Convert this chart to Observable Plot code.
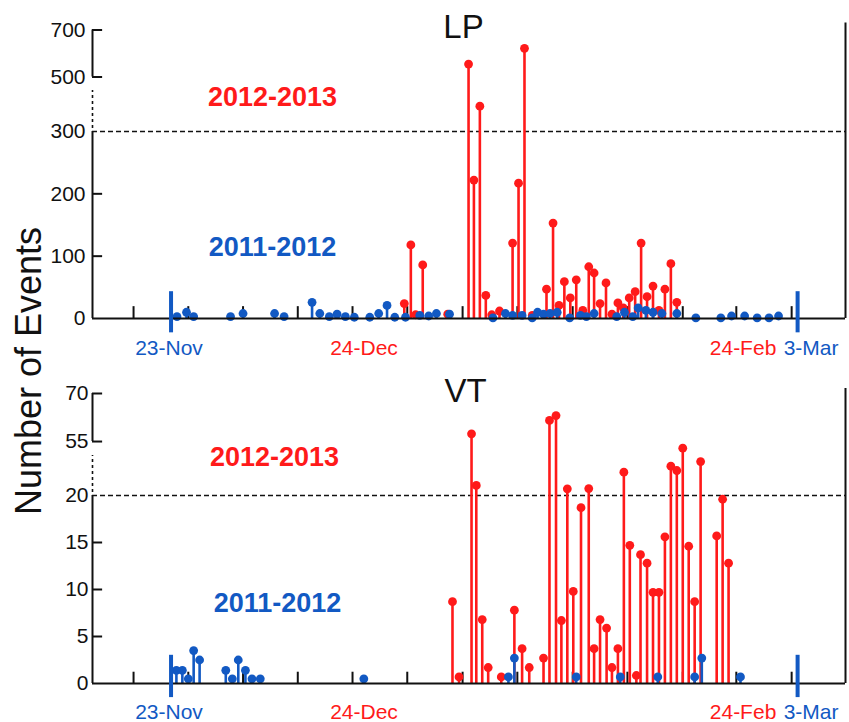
<!DOCTYPE html>
<html>
<head>
<meta charset="utf-8">
<script src="https://cdn.jsdelivr.net/npm/d3@7"></script>
<script src="https://cdn.jsdelivr.net/npm/@observablehq/plot@0.6"></script>
<style>
  html, body { margin: 0; padding: 0; background: #fff; }
  #wrap { position: relative; width: 849px; height: 722px; overflow: hidden; font-family: "Liberation Sans", Arial, Helvetica, sans-serif; }
  #lp, #vt { position: absolute; left: 0; }
  #lp { top: 0; }
  #vt { top: 360px; }
  #ytitle { position: absolute; left: 29px; top: 371px; transform: translate(-50%, -50%) rotate(-90deg); white-space: nowrap; font-size: 36px; color: #111; }
</style>
</head>
<body>
<div id="wrap">
  <div id="lp"></div>
  <div id="vt"></div>
  <div id="ytitle">Number of Events</div>
</div>
<script>
// ---------- data (x = day index along the season axis) ----------
const lpRedDay = [52.2,53.3,54.1,55.3,59.5,63.0,63.9,64.9,65.9,66.9,68.2,70.4,71.4,72.4,73.7,76.1,77.2,78.2,79.1,80.1,81.1,82.2,83.2,84.1,85.1,86.1,87.1,88.1,89.0,90.0,91.0,92.0,93.0,94.0,95.0,96.0,97.0,98.0];
const lpRedCount = [24,118,6,86,7,555,222,393,37,6,12,121,217,622,5,47,153,21,59,33,62,13,83,73,24,57,7,25,17,33,43,121,35,52,13,47,88,26];
const lpBlueDay = [14.0,15.6,16.8,23.0,25.1,30.4,32.0,36.7,38.0,39.6,40.9,42.3,43.8,46.4,47.9,49.3,50.6,52.4,54.8,56.3,57.6,59.8,67.1,69.2,70.4,72.0,73.7,74.6,75.6,76.7,77.9,80.0,81.8,82.8,84.1,87.9,89.2,90.6,91.5,92.8,94.0,95.5,98.0,101.2,105.4,107.2,109.4,111.5,113.5,115.1];
const lpBlueCount = [3,10,3,3,8,8,3,26,8,3,7,3,2,2,8,21,2,2,5,4,8,7,1,8,5,5,1,10,7,8,10,1,5,3,8,3,10,3,17,13,10,8,8,1,1,4,4,1,1,4];

const vtRedDay = [60.3,61.4,63.5,64.3,65.3,66.3,68.5,70.7,72.0,73.2,75.6,76.6,77.7,78.6,79.6,80.6,81.9,83.2,84.1,85.1,86.2,87.1,88.1,89.1,90.1,91.2,91.9,93.0,94.0,95.0,96.0,97.0,98.0,99.0,100.0,101.0,102.0,104.7,105.7,106.7];
const vtRedCount = [8.7,0.7,57.4,26.5,6.8,1.7,0.7,7.8,3.7,1.7,2.7,61.6,63.1,6.7,24.3,9.8,18.7,24.5,3.7,6.8,5.9,1.7,3.7,35.1,14.7,0.85,13.7,12.8,9.7,9.7,15.6,39,36.2,50.7,14.6,8.7,42,15.7,19.6,12.8];
const vtBlueDay = [13.9,14.9,15.9,16.8,17.8,22.2,23.3,24.3,25.5,26.6,28.0,45.4,69.7,70.7,81.1,88.5,94.8,101.0,102.2,108.7];
const vtBlueCount = [1.4,1.4,0.5,3.5,2.5,1.4,0.5,2.5,1.4,0.5,0.5,0.5,0.7,2.7,0.7,0.7,0.7,0.7,2.7,0.7];

const xTickDays = [6.7,15.9,25.1,34.3,43.5,52.7,62.0,71.2,80.5,89.7,99.0,108.0,117.3];
const seasonMarkDays = [13.0, 118.3];
const dateLabels = ["23-Nov", "24-Dec", "24-Feb", "3-Mar"];
const dateLabelDays = [12.66, 45.43, 109.13, 120.56];
const dateLabelSeason = ["2011-2012", "2012-2013", "2012-2013", "2011-2012"];

const lpTicks = [0, 100, 200, 300, 500, 700];
const vtTicks = [0, 5, 10, 15, 20, 55, 70];

// broken axes: count -> display units (lower part linear, upper part compressed)
const lpBreakDomain = [0, 300, 500, 700];
const lpBreakUnits = [0, 300, 387.4, 462.8];
const vtBreakDomain = [0, 20, 55, 70];
const vtBreakUnits = [0, 20, 25.74, 30.85];

// ---------- styling ----------
const RED = "#ff1a1a";
const BLUE = "#1259c3";
const INK = "#111";
const FONT = "Liberation Sans, Arial, Helvetica, sans-serif";
const X0 = -0.2, X1 = 126.35;

function rows(days, counts) { return days.map((d, i) => ({day: d, n: counts[i]})); }
const dateRows = dateLabels.map((t, i) => ({t, day: dateLabelDays[i], s: dateLabelSeason[i]}));

function panel(o) {
  const brk = d3.scaleLinear().domain(o.brkDomain).range(o.brkUnits);
  const red = rows(o.redDay, o.redCount);
  const blue = rows(o.blueDay, o.blueCount);
  const top = o.brkUnits[o.brkUnits.length - 1];
  const tickVals = o.yTicks.filter(v => v !== 0 && v !== o.breakAt).map(brk);
  return Plot.plot({
    width: 849,
    height: o.height,
    marginLeft: 92, marginRight: 4, marginTop: o.mt, marginBottom: o.mb,
    style: {fontFamily: FONT, background: "white", overflow: "visible"},
    x: {domain: [X0, X1], axis: null},
    y: {domain: [0, top], axis: null},
    marks: [
      // break line
      Plot.ruleY([brk(o.breakAt)], {stroke: INK, strokeWidth: 1.6, strokeDasharray: "5,3"}),
      // left axis line: solid / dashed (break) / solid
      Plot.ruleX([X0], {y1: brk(o.upperLow), y2: top, stroke: INK, strokeWidth: 2}),
      Plot.ruleX([X0], {y1: brk(o.dashLow), y2: brk(o.dashHigh), stroke: INK, strokeWidth: 1.6, strokeDasharray: "3,3"}),
      Plot.ruleX([X0], {y1: 0, y2: brk(o.breakAt), stroke: INK, strokeWidth: 2}),
      // right border
      Plot.ruleX([X1], {y1: 0, y2: brk(o.rightTop), stroke: INK, strokeWidth: 2}),
      // inward y ticks
      Plot.ruleY(tickVals, {y: d => d, x1: X0, x2: X0 + 1.7, stroke: INK, strokeWidth: 2}),
      Plot.axisY(o.yTicks.map(brk), {anchor: "left", tickSize: 0, tickPadding: o.tickPad, fontSize: 21, fill: INK, label: null,
        tickFormat: d => String(Math.round(brk.invert(d)))}),
      // x ticks (inward)
      Plot.ruleX(xTickDays, {y1: 0, y2: brk(o.xTickLen), stroke: INK, strokeWidth: 2}),
      // 2012-2013 stems and dots
      Plot.ruleX(red, {x: "day", y1: 0, y2: d => brk(d.n), stroke: RED, strokeWidth: 2.6}),
      Plot.dot(red, {x: "day", y: d => brk(d.n), r: 4.4, fill: RED}),
      // 2011-2012 stems and dots
      Plot.ruleX(blue, {x: "day", y1: 0, y2: d => brk(d.n), stroke: BLUE, strokeWidth: 2.6}),
      Plot.dot(blue, {x: "day", y: d => brk(d.n), r: 4.4, fill: BLUE}),
      // baseline
      Plot.ruleY([0], {stroke: INK, strokeWidth: 2}),
      // season start/end markers
      Plot.ruleX(seasonMarkDays, {y1: brk(o.markLow), y2: brk(o.markHigh), stroke: BLUE, strokeWidth: 4}),
      // date labels
      Plot.text(dateRows, {x: "day", text: "t", frameAnchor: "bottom", lineAnchor: "bottom", dy: o.dateDy, fontSize: 21,
        fill: d => d.s === "2012-2013" ? RED : BLUE}),
      // panel title and season labels
      Plot.text([o.title], {frameAnchor: "top-left", dx: o.titleDx, dy: o.titleDy, lineAnchor: "bottom", textAnchor: "middle", fontSize: 33, fill: INK}),
      Plot.text(["2012-2013"], {frameAnchor: "top-left", dx: o.redLabDx, dy: o.redLabDy, lineAnchor: "bottom", textAnchor: "middle", fontSize: 27, fontWeight: "bold", fill: RED}),
      Plot.text(["2011-2012"], {frameAnchor: "top-left", dx: o.blueLabDx, dy: o.blueLabDy, lineAnchor: "bottom", textAnchor: "middle", fontSize: 27, fontWeight: "bold", fill: BLUE})
    ]
  });
}

document.getElementById("lp").append(panel({
  height: 360, mt: 29.5, mb: 42,
  brkDomain: lpBreakDomain, brkUnits: lpBreakUnits,
  yTicks: lpTicks, breakAt: 300, upperLow: 500, dashLow: 311, dashHigh: 450, rightTop: 730,
  tickPad: 7, xTickLen: 19, markLow: -23, markHigh: 43, dateDy: 36,
  redDay: lpRedDay, redCount: lpRedCount, blueDay: lpBlueDay, blueCount: lpBlueCount,
  title: "LP", titleDx: 371, titleDy: 7.5,
  redLabDx: 180, redLabDy: 75.5, blueLabDx: 180, blueLabDy: 225.5
}));

document.getElementById("vt").append(panel({
  height: 362, mt: 33, mb: 39,
  brkDomain: vtBreakDomain, brkUnits: vtBreakUnits,
  yTicks: vtTicks, breakAt: 20, upperLow: 55, dashLow: 22, dashHigh: 45.9, rightTop: 71.6,
  tickPad: 4, xTickLen: 1.2, markLow: -1.5, markHigh: 3.0, dateDy: 35,
  redDay: vtRedDay, redCount: vtRedCount, blueDay: vtBlueDay, blueCount: vtBlueCount,
  title: "VT", titleDx: 373, titleDy: 8,
  redLabDx: 182, redLabDy: 72, blueLabDx: 185, blueLabDy: 218
}));
</script>
</body>
</html>
